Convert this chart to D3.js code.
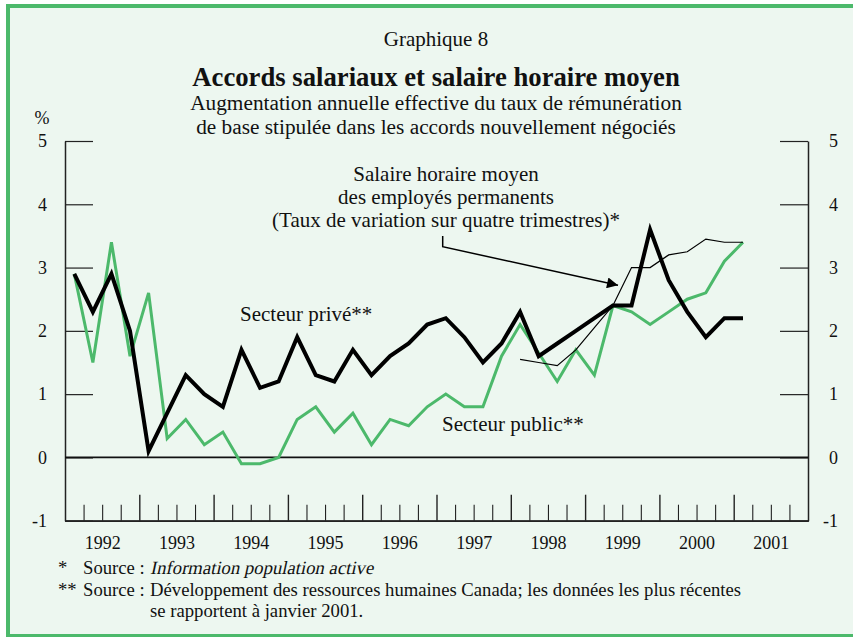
<!DOCTYPE html>
<html>
<head>
<meta charset="utf-8">
<script src="https://cdnjs.cloudflare.com/ajax/libs/d3/7.8.5/d3.min.js"></script>
<style>
	body { margin: 0; background: #ffffff; }
	svg text { font-family: "Liberation Serif", "Times New Roman", serif; fill: #111; }
</style>
</head>
<body>
<script>
// Quarters, 1992T1 to 2001T1
var quarters = [
	"1992T1", "1992T2", "1992T3", "1992T4",
	"1993T1", "1993T2", "1993T3", "1993T4",
	"1994T1", "1994T2", "1994T3", "1994T4",
	"1995T1", "1995T2", "1995T3", "1995T4",
	"1996T1", "1996T2", "1996T3", "1996T4",
	"1997T1", "1997T2", "1997T3", "1997T4",
	"1998T1", "1998T2", "1998T3", "1998T4",
	"1999T1", "1999T2", "1999T3", "1999T4",
	"2000T1", "2000T2", "2000T3", "2000T4",
	"2001T1"
];

// Secteur privé** (thick black)
var prive = [
	2.9, 2.3, 2.9, 2.0,
	0.1, 0.7, 1.3, 1.0,
	0.8, 1.7, 1.1, 1.2,
	1.9, 1.3, 1.2, 1.7,
	1.3, 1.6, 1.8, 2.1,
	2.2, 1.9, 1.5, 1.8,
	2.3, 1.6, 1.8, 2.0,
	2.2, 2.4, 2.4, 3.6,
	2.8, 2.3, 1.9, 2.2,
	2.2
];

// Secteur public** (green)
var public_ = [
	2.9, 1.5, 3.4, 1.6,
	2.6, 0.3, 0.6, 0.2,
	0.4, -0.1, -0.1, 0.0,
	0.6, 0.8, 0.4, 0.7,
	0.2, 0.6, 0.5, 0.8,
	1.0, 0.8, 0.8, 1.6,
	2.1, 1.65, 1.2, 1.7,
	1.3, 2.4, 2.3, 2.1,
	2.3, 2.5, 2.6, 3.1,
	3.4
];

// Salaire horaire moyen des employés permanents (thin black)
var salaire = [
	null, null, null, null,
	null, null, null, null,
	null, null, null, null,
	null, null, null, null,
	null, null, null, null,
	null, null, null, null,
	1.55, 1.5, 1.45, 1.7,
	2.05, 2.4, 3.0, 3.0,
	3.2, 3.25, 3.45, 3.4,
	3.4
];

var years = [1992, 1993, 1994, 1995, 1996, 1997, 1998, 1999, 2000, 2001];
var yTicks = [-1, 0, 1, 2, 3, 4, 5];

var W = 853, H = 637;
var green = "#4cb96b";

var svg = d3.select("body").
append("svg").
attr("width", W).
attr("height", H);

// Frame
svg.append("rect").
attr("x", 8).
attr("y", 6).
attr("width", 900).
attr("height", 630).
attr("fill", "#edf7f0").
attr("stroke", green).
attr("stroke-width", 4);

// quarter string -> fractional year (middle of quarter)
function qPos(q) {
	var yr = +q.slice(0, 4), n = +q.slice(5);
	return yr + (n - 0.5) / 4;
}

var x = d3.scaleLinear().domain([1992, 2002]).range([65, 808]);
var y = d3.scaleLinear().domain([-1, 5]).range([520.7, 141]);

// Titles
svg.append("text").attr("x", 436).attr("y", 46).attr("text-anchor", "middle").
style("font-size", "21px").text("Graphique 8");
svg.append("text").attr("x", 436).attr("y", 86).attr("text-anchor", "middle").
style("font-size", "26.7px").style("font-weight", "bold").
text("Accords salariaux et salaire horaire moyen");
svg.append("text").attr("x", 436).attr("y", 110).attr("text-anchor", "middle").
style("font-size", "21.3px").
text("Augmentation annuelle effective du taux de rémunération");
svg.append("text").attr("x", 436).attr("y", 134).attr("text-anchor", "middle").
style("font-size", "21.3px").
text("de base stipulée dans les accords nouvellement négociés");
svg.append("text").attr("x", 42).attr("y", 124).attr("text-anchor", "middle").
style("font-size", "18px").text("%");

// Y axes
var fmt = function (d) { return String(d); };
var yLeft = d3.axisLeft(y).tickValues(yTicks).tickSizeInner(-28).tickSizeOuter(0).tickPadding(18).tickFormat(fmt);
var gL = svg.append("g").attr("transform", "translate(65,0)").call(yLeft);

var yRight = d3.axisRight(y).tickValues(yTicks).tickSizeInner(-28).tickSizeOuter(0).tickFormat(fmt);
var gR = svg.append("g").attr("transform", "translate(808,0)").call(yRight);
gR.selectAll("text").attr("x", 30).attr("text-anchor", "end");

[gL, gR].forEach(function (g) {
	g.select(".domain").attr("stroke", "#222").attr("stroke-width", 1.5);
	g.selectAll(".tick line").attr("stroke", "#222").attr("stroke-width", 1.2);
	g.selectAll("text").style("font-size", "18px").attr("fill", "#111").
	style("font-family", "Liberation Serif, Times New Roman, serif");
});

// Zero line
svg.append("line").
attr("x1", x(1992)).attr("x2", x(2002)).
attr("y1", y(0)).attr("y2", y(0)).
attr("stroke", "#111").attr("stroke-width", 1.6);

// X axis: quarter ticks, year ticks, year labels
var qTicks = [];
years.forEach(function (yr) { [0.25, 0.5, 0.75].forEach(function (f) { qTicks.push(yr + f); }); });
var yrTicks = years.slice(1);

var xMinor = d3.axisBottom(x).tickValues(qTicks).tickSizeInner(-16).tickSizeOuter(0).tickFormat("");
var xMajor = d3.axisBottom(x).tickValues(yrTicks).tickSizeInner(-26).tickSizeOuter(0).tickFormat("");
var xLab = d3.axisBottom(x).tickValues(years.map(function (d) { return d + 0.5; })).
tickSize(0).tickPadding(16).tickFormat(function (d) { return Math.floor(d); });

[xMinor, xMajor, xLab].forEach(function (ax, i) {
	var g = svg.append("g").attr("transform", "translate(0," + y(-1) + ")").call(ax);
	g.select(".domain").attr("stroke", "#222").attr("stroke-width", 1.5);
	g.selectAll(".tick line").attr("stroke", "#222").attr("stroke-width", i == 1 ? 1.4 : 1.1);
	g.selectAll("text").style("font-size", "18px").attr("fill", "#111").
	style("font-family", "Liberation Serif, Times New Roman, serif");
});

// Lines
var line = d3.line().
defined(function (d) { return d[1] != null; }).
x(function (d) { return x(qPos(d[0])); }).
y(function (d) { return y(d[1]); });

function series(vals) {
	return quarters.map(function (q, i) { return [q, vals[i]]; });
}

svg.append("path").datum(series(public_)).
attr("d", line).attr("fill", "none").attr("stroke", green).
attr("stroke-width", 3).attr("stroke-linejoin", "miter");

svg.append("path").datum(series(prive)).
attr("d", line).attr("fill", "none").attr("stroke", "#000").
attr("stroke-width", 4).attr("stroke-linejoin", "miter");

svg.append("path").datum(series(salaire)).
attr("d", line).attr("fill", "none").attr("stroke", "#000").
attr("stroke-width", 1.2).attr("stroke-linejoin", "miter");

// Annotations
var ann = svg.append("g").style("font-size", "21px");
ann.append("text").attr("x", 446).attr("y", 181).attr("text-anchor", "middle").text("Salaire horaire moyen");
ann.append("text").attr("x", 446).attr("y", 204).attr("text-anchor", "middle").text("des employés permanents");
ann.append("text").attr("x", 446).attr("y", 227).attr("text-anchor", "middle").text("(Taux de variation sur quatre trimestres)*");
ann.append("text").attr("x", 240).attr("y", 321).text("Secteur privé**");
ann.append("text").attr("x", 442).attr("y", 431).text("Secteur public**");

// Arrow to the hourly wage line
svg.append("defs").append("marker").
attr("id", "arrow").attr("viewBox", "0 0 10 10").
attr("refX", 10).attr("refY", 5).
attr("markerWidth", 16).attr("markerHeight", 11).
attr("markerUnits", "userSpaceOnUse").
attr("orient", "auto").
append("path").attr("d", "M0,0 L10,5 L0,10 Z").attr("fill", "#000");

var tipX = x(1999.443), tipY = y(2.72);
svg.append("path").
attr("d", "M442.7,236 L442.7,246.7 L" + tipX + "," + tipY).
attr("fill", "none").attr("stroke", "#000").attr("stroke-width", 1.5).
attr("marker-end", "url(#arrow)");

// Footnotes
var fn = svg.append("g").style("font-size", "18.7px");
fn.append("text").attr("x", 58).attr("y", 574).text("*");
fn.append("text").attr("x", 83).attr("y", 574).text("Source :");
fn.append("text").attr("transform", "translate(150,574) skewX(-12)").text("Information population active");
fn.append("text").attr("x", 58).attr("y", 596).text("**");
fn.append("text").attr("x", 83).attr("y", 596).text("Source :");
fn.append("text").attr("x", 150).attr("y", 596).text("Développement des ressources humaines Canada; les données les plus récentes");
fn.append("text").attr("x", 150).attr("y", 617).text("se rapportent à janvier 2001.");
</script>
</body>
</html>
